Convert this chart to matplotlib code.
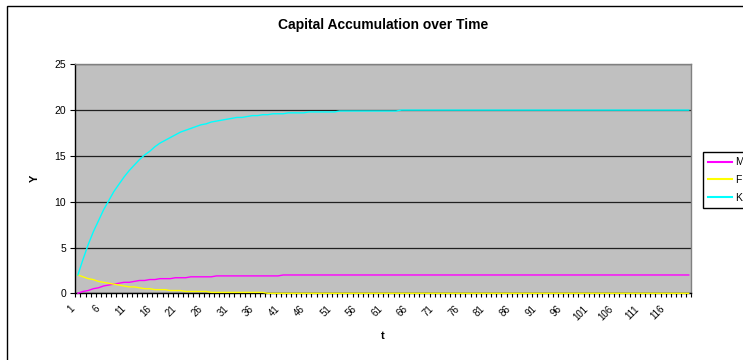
import numpy as np
import matplotlib
matplotlib.use("Agg")
import matplotlib.pyplot as plt
import matplotlib.transforms as mtransforms
from matplotlib.patches import Rectangle
from matplotlib.ticker import FixedLocator

plt.rcParams['font.family'] = ['Liberation Sans', 'DejaVu Sans']

# periods
t = np.arange(1, 121)

M = ([0.0, 0.2, 0.3, 0.5, 0.6, 0.8, 0.9, 1.0, 1.1, 1.2, 1.2, 1.3, 1.4, 1.4,
      1.5, 1.5, 1.6, 1.6, 1.6, 1.7, 1.7, 1.7, 1.8, 1.8, 1.8, 1.8, 1.8]
     + [1.9] * 13 + [2.0] * 80)

F = ([2.0, 1.8, 1.6, 1.5, 1.3, 1.2, 1.1, 1.0, 0.9, 0.8, 0.7, 0.7, 0.6,
      0.5, 0.5, 0.4, 0.4, 0.4, 0.3, 0.3, 0.3, 0.2, 0.2, 0.2, 0.2, 0.2]
     + [0.1] * 11 + [0.0] * 83)

K = ([2.0, 3.7, 5.3, 6.7, 7.9, 9.1, 10.1, 11.1, 11.9, 12.7, 13.4, 14.0,
      14.6, 15.1, 15.5, 16.0, 16.4, 16.7, 17.0, 17.3, 17.6, 17.8, 18.0,
      18.2, 18.4, 18.5, 18.7, 18.8, 18.9, 19.0, 19.1, 19.2, 19.2, 19.3,
      19.4, 19.4, 19.5, 19.5, 19.6, 19.6, 19.6, 19.7, 19.7, 19.7, 19.7,
      19.8, 19.8, 19.8, 19.8, 19.8, 19.8]
     + [19.9] * 12 + [20.0] * 57)

series_names = ['M', 'F', 'K']
series_colors = ['#FF00FF', '#FFFF00', '#00FFFF']

W, H = 743, 360
fig = plt.figure(figsize=(W / 100, H / 100), dpi=100)
fig.patch.set_facecolor('white')

# chart border (runs off the right/bottom edge)
fig.patches.append(Rectangle((7.5 / W, -0.05), 1.1, 1.05 - 6.5 / H,
                             transform=fig.transFigure, fill=False,
                             edgecolor='black', linewidth=1.0))

ax = fig.add_axes([75.3 / W, 1 - 293.3 / H, (691.3 - 75.3) / W, (293.3 - 64.3) / H])
ax.set_facecolor('#C0C0C0')

for y, name, c in zip([M, F, K], series_names, series_colors):
    ax.plot(t, y, color=c, lw=1.0, label=name, zorder=3, clip_on=False)

ax.set_xlim(0.5, 120.5)
ax.set_ylim(0, 25)
ax.set_yticks([0, 5, 10, 15, 20, 25])
ax.yaxis.grid(True, color='#202020', lw=0.9)
ax.set_axisbelow(True)

# category labels every 5 periods, tick marks between categories
ax.set_xticks(t[::5])
ax.set_xticklabels([str(v) for v in t[::5]])
ax.xaxis.set_minor_locator(FixedLocator(np.arange(0.5, 121, 1)))
ax.tick_params(axis='x', which='major', length=0, pad=10, labelsize=7)
ax.tick_params(axis='x', which='minor', length=3, width=0.8, direction='out')
ax.tick_params(axis='y', length=3.5, width=0.8, pad=3, labelsize=7.5)

shift = mtransforms.ScaledTranslation(-5 / 100, 0, fig.dpi_scale_trans)
for lab in ax.get_xticklabels():
    lab.set_rotation(45)
    lab.set_ha('right')
    lab.set_va('center')
    lab.set_rotation_mode('anchor')
    lab.set_transform(lab.get_transform() + shift)

for side in ['top', 'right']:
    ax.spines[side].set_color('#808080')
    ax.spines[side].set_linewidth(1.0)
for side in ['left', 'bottom']:
    ax.spines[side].set_color('black')
    ax.spines[side].set_linewidth(1.0)

fig.text(383 / W, 1 - 25 / H, 'Capital Accumulation over Time', ha='center',
         va='center', fontsize=10, fontweight='bold')
fig.text(35 / W, 1 - 178 / H, 'Y', ha='center', va='center', rotation=90,
         fontsize=8, fontweight='bold')
fig.text(383 / W, 1 - 336 / H, 't', ha='center', va='center',
         fontsize=8, fontweight='bold')

leg = fig.legend(loc='upper left', bbox_to_anchor=(703 / W, 1 - 152 / H),
                 fontsize=7.5, frameon=True, fancybox=False, edgecolor='black',
                 handlelength=2.3, handletextpad=0.25, labelspacing=0.75,
                 borderpad=0.5, borderaxespad=0, framealpha=1)
leg.get_frame().set_linewidth(1.0)
for line in leg.get_lines():
    line.set_linewidth(1.5)

fig.savefig('out.png', dpi=100)
